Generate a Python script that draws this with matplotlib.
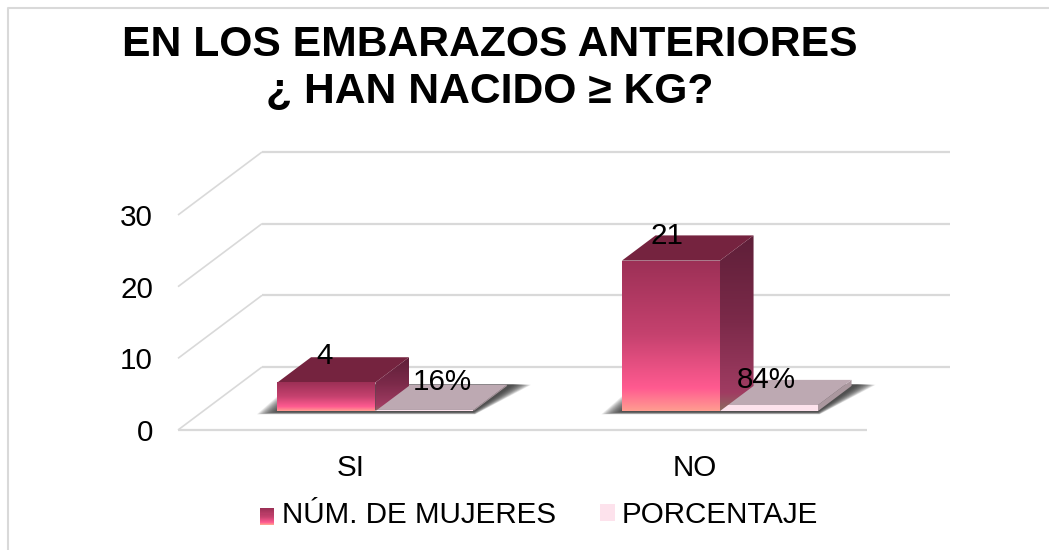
import matplotlib
matplotlib.use('Agg')
import matplotlib.pyplot as plt
import numpy as np
from matplotlib.colors import LinearSegmentedColormap
from matplotlib.legend_handler import HandlerBase
from matplotlib.lines import Line2D
from matplotlib.patches import Patch, Polygon, Rectangle

plt.rcParams['font.family'] = ['Liberation Sans', 'DejaVu Sans']

categories = ['SI', 'NO']
mujeres = [4, 21]
porcentaje = [0.16, 0.84]
mujeres_labels = ['4', '21']
porcentaje_labels = ['16%', '84%']
y_ticks = [0, 10, 20, 30]
title = 'EN LOS EMBARAZOS ANTERIORES\n¿ HAN NACIDO ≥ KG?'

W, H = 1049, 550
fig = plt.figure(figsize=(W / 100, H / 100), dpi=100)
# front plane of the fake 3d box, in pixels of the reference
ax = fig.add_axes([178 / W, 1 - 430 / H, 689 / W, 215 / H])
ax.set_xlim(-0.5, 1.5)
ax.set_ylim(0, 30)
for s in ax.spines.values():
    s.set_visible(False)
ax.patch.set_visible(False)

# depth: full box shift in data units
DX = 84 / 344.5
DY = 63 / 7.167
BAR_W = 98 / 344.5
D0, D1 = 0.3, 0.7
GRID = '#d9d9d9'
LABEL_FS = 21.3


def proj(x, v, d):
    return x + d * DX, v + d * DY


def grad_poly(pts, colors, z, stops=None):
    # vertical gradient clipped to a polygon
    pts = np.array(pts)
    if stops is None:
        stops = np.linspace(0, 1, len(colors))
    cmap = LinearSegmentedColormap.from_list('g', list(zip(stops, colors)))
    g = np.linspace(0, 1, 128).reshape(-1, 1)
    ext = [pts[:, 0].min(), pts[:, 0].max(), pts[:, 1].min(), pts[:, 1].max()]
    im = ax.imshow(g, cmap=cmap, extent=ext, origin='upper', aspect='auto', zorder=z,
                   interpolation='bilinear', clip_on=True)
    im.set_clip_path(Polygon(pts, transform=ax.transData))


FRONT = ['#9c3056', '#c6426f', '#ff5a90', '#ff9c90']
FRONT_STOPS = [0, 0.5, 0.85, 1]
SIDE = ['#5e1f38', '#7c2a4a', '#a03c62', '#8e6a60']
SIDE_STOPS = [0, 0.5, 0.9, 1]


def shadow(x0, x1):
    # soft dark shadow on the floor, many thin layers growing outwards
    for grow in np.linspace(1, 0, 24):
        left = grow * 0.06
        right = grow * 0.05
        low = -0.1 - grow * 0.35
        pts = [proj(x0 - left, low, D0),
               proj(x1 + right * 0.1, low, D0),
               proj(x1 + right + 0.02, 0.25 - grow * 0.1, D1),
               proj(x0 - left, 0.25 - grow * 0.1, D1)]
        ax.add_patch(Polygon(pts, fc='#333333', ec='none', alpha=0.07, zorder=2, clip_on=False))


def bar3d(x0, x1, v, z, front=None, top=None, side=None):
    f = [proj(x0, 0, D0), proj(x1, 0, D0), proj(x1, v, D0), proj(x0, v, D0)]
    t = [proj(x0, v, D0), proj(x1, v, D0), proj(x1, v, D1), proj(x0, v, D1)]
    s = [proj(x1, 0, D0), proj(x1, 0, D1), proj(x1, v, D1), proj(x1, v, D0)]
    if isinstance(side, str):
        ax.add_patch(Polygon(s, fc=side, ec='none', zorder=z, clip_on=False))
    else:
        grad_poly(s, SIDE, z, SIDE_STOPS)
    ax.add_patch(Polygon(t, fc=top, ec='none', zorder=z + 0.1, clip_on=False))
    if isinstance(front, str):
        ax.add_patch(Polygon(f, fc=front, ec='none', zorder=z + 0.2, clip_on=False))
    else:
        grad_poly(f, FRONT, z + 0.2, FRONT_STOPS)


# walls: front floor line, back lines and the slanted ones on the left
ax.plot([-0.5, 1.5], [0, 0], color=GRID, lw=1.6, zorder=1, clip_on=False, solid_capstyle='butt')
for t in y_ticks:
    bx, bv = proj(-0.5, t, 1)
    ax.plot([-0.5, bx], [t, bv], color=GRID, lw=1.2, zorder=1, clip_on=False, solid_capstyle='butt')
    ex, ev = proj(1.5, t, 1)
    ax.plot([bx, ex - 0.003], [bv, ev], color=GRID, lw=1.6, zorder=1, clip_on=False, solid_capstyle='butt')

for i in range(len(categories)):
    shadow(i - BAR_W, i + BAR_W)
    bar3d(i, i + BAR_W, porcentaje[i], 3, front='#fde2ec', top='#bda9b2', side='#ab989f')
    bar3d(i - BAR_W, i, mujeres[i], 4, top='#75233f')

ax.annotate(mujeres_labels[0], proj(0 - BAR_W / 2, mujeres[0], D0), xytext=(-1, 19),
            textcoords='offset points', ha='center', va='center', fontsize=LABEL_FS, zorder=6)
ax.annotate(mujeres_labels[1], proj(1 - BAR_W / 2, mujeres[1], D0), xytext=(-3, 18),
            textcoords='offset points', ha='center', va='center', fontsize=LABEL_FS, zorder=6)
ax.annotate(porcentaje_labels[0], proj(0 + BAR_W / 2, porcentaje[0], D0), xytext=(13, 20),
            textcoords='offset points', ha='center', va='center', fontsize=LABEL_FS, zorder=6)
ax.annotate(porcentaje_labels[1], proj(1 + BAR_W / 2, porcentaje[1], D0), xytext=(-2, 18),
            textcoords='offset points', ha='center', va='center', fontsize=LABEL_FS, zorder=6)

ax.set_xticks(range(len(categories)), categories)
ax.set_yticks(y_ticks)
ax.tick_params(length=0, labelsize=LABEL_FS, colors='black')
ax.tick_params(axis='x', pad=17)
ax.tick_params(axis='y', pad=18)

fig.text(490 / W, 1 - 68.5 / H, title, ha='center', va='center', fontsize=30.7,
         fontweight='bold', linespacing=1.2)

# outer frame of the chart: only the top and left edges are in the picture
fig.add_artist(Line2D([8 / W, 8 / W, 1], [0, 1 - 8 / H, 1 - 8 / H], transform=fig.transFigure,
                      color=GRID, lw=1.5))


class GradHandler(HandlerBase):
    def create_artists(self, legend, orig, x, y, w, h, fs, trans):
        cmap = LinearSegmentedColormap.from_list('k', list(zip(FRONT_STOPS, FRONT)))
        n = 16
        out = []
        for k in range(n):
            out.append(Rectangle((x, y + h * k / n), w, h / n + 0.2, fc=cmap(1 - k / (n - 1)),
                                 ec='none', transform=trans))
        return out


h1 = Patch(facecolor='#c6426f')
h2 = Patch(facecolor='#fde2ec')
fig.legend([h1, h2], ['NÚM. DE MUJERES', 'PORCENTAJE'], handler_map={h1: GradHandler()},
           loc='center', bbox_to_anchor=(539 / W, 1 - 515 / H), ncol=2, frameon=False,
           fontsize=LABEL_FS, handlelength=0.5, handleheight=0.5, handletextpad=0.24, columnspacing=1.5)

fig.savefig('out.png', dpi=100)
